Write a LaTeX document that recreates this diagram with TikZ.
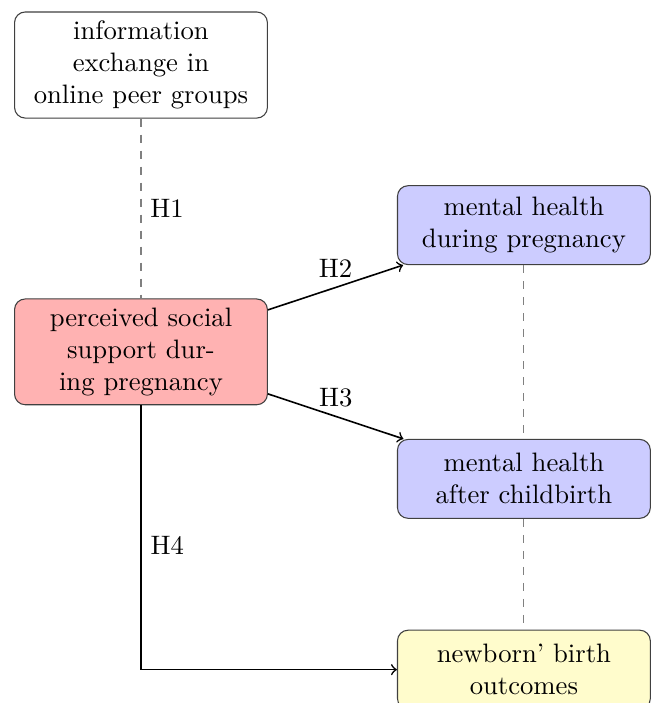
\documentclass[tikz,border=0pt]{standalone}
\usepackage{xcolor}
\usepackage{tikz}
\usetikzlibrary{positioning}

\begin{document}
\begin{tikzpicture}[
  >=to, node distance=1.7cm,
  box/.style={rectangle, rounded corners, draw=black!75, fill=white,
              align=center, text width=3.15cm, inner xsep=2.6pt, minimum height=1.04cm},
  hyp/.style={->, semithick},
  link/.style={dashed, gray}]
  \useasboundingbox (0,0) rectangle (8.58,-9.265);
  \node[box] (info) at (1.858,-0.857) {information exchange in online peer groups};
  \node[box, fill=red!30, below=2.37cm of info] (support) {perceived social support during pregnancy};
  \node[box, fill=blue!20, right=of support, yshift=1.67cm] (mhpreg) {mental health during pregnancy};
  \node[box, fill=blue!20, below=2.29cm of mhpreg] (mhbirth) {mental health after childbirth};
  \node[box, fill=yellow!20, below=1.46cm of mhbirth] (newborn) {newborn' birth outcomes};
  \draw[link] (info) -- node[right, text=black]{H1} (support);
  \draw[hyp] (support) -- node[above]{H2} (mhpreg);
  \draw[hyp] (support) -- node[above]{H3} (mhbirth);
  \draw[hyp] (support) |- node[pos=0.265, right]{H4} (newborn);
  \draw[link] (mhpreg) -- (mhbirth);
  \draw[link] (mhbirth) -- (newborn);
\end{tikzpicture}
\end{document}
